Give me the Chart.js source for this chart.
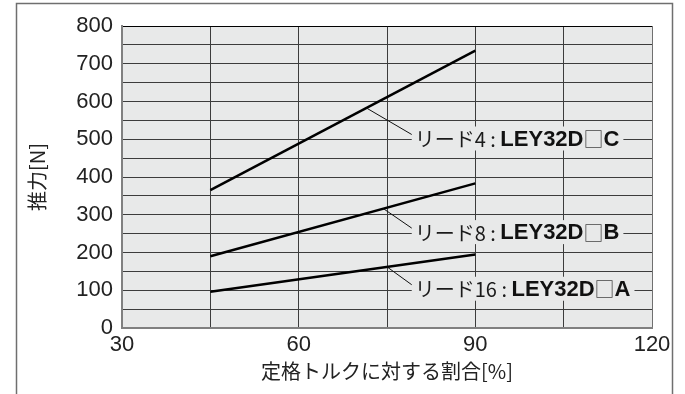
<!DOCTYPE html>
<html><head><meta charset="utf-8">
<script src="https://cdn.jsdelivr.net/npm/chart.js@4.4.1/dist/chart.umd.min.js"></script>
<style>html,body{margin:0;padding:0;background:#fff;}canvas{display:block}</style>
</head><body>
<canvas id="c" width="685" height="394"></canvas>
<script>
// ---- data ----
const ratioPct = [45, 90];                 // 定格トルクに対する割合[%]
const lead4Force = [365, 735];             // リード4
const lead8Force = [190, 383];             // リード8
const lead16Force = [96, 195];             // リード16
const leadNames = ['リード4', 'リード8', 'リード16'];
const modelCodes = ['LEY32D', 'LEY32D', 'LEY32D'];
const modelSuffix = ['C', 'B', 'A'];
const labelCentreForce = [502, 254, 104];  // where each callout sits (value units)
const leaderStartPct = [71.5, 74.4, 75.0];
const labelStartPct = 79.2;
const xTickLabels = [30, 60, 90, 120];
const yTickLabels = [0, 100, 200, 300, 400, 500, 600, 700, 800];

const seriesList = [lead4Force, lead8Force, lead16Force];
const PLOT_BG = '#e8e9e9';
const JP = '"Noto Sans CJK JP", "Noto Sans", sans-serif';
const LAT = '"Liberation Sans", Arial, sans-serif';

const bgPlugin = {
  id: 'bg',
  beforeDraw(chart) {
    const {ctx, chartArea: a} = chart;
    ctx.save();
    ctx.fillStyle = PLOT_BG;
    ctx.fillRect(a.left, a.top, a.right - a.left, a.bottom - a.top);
    ctx.restore();
  },
  afterDraw(chart) {
    const {ctx} = chart;
    ctx.save();
    ctx.strokeStyle = '#6f6f6f';
    ctx.lineWidth = 1.5;
    ctx.beginPath();
    ctx.moveTo(16.5, 394); ctx.lineTo(16.5, 3.5); ctx.lineTo(672.5, 3.5); ctx.lineTo(672.5, 394);
    ctx.stroke();
    ctx.restore();
  }
};

function valueOn(series, pct) {
  const t = (pct - ratioPct[0]) / (ratioPct[1] - ratioPct[0]);
  return series[0] + t * (series[1] - series[0]);
}

const calloutPlugin = {
  id: 'callouts',
  afterDatasetsDraw(chart) {
    const {ctx, scales: {x, y}} = chart;
    ctx.save();
    ctx.textBaseline = 'middle';
    seriesList.forEach((series, i) => {
      const runs = [
        {t: leadNames[i], font: '400 20px ' + JP, color: '#1a1a1a'},
        {t: ' : ', font: '400 20px ' + JP, color: '#1a1a1a'},
        {t: modelCodes[i], font: 'bold 22px ' + LAT, color: '#111'},
        {t: '□', font: '400 20px ' + JP, color: '#444'},
        {t: modelSuffix[i], font: 'bold 22px ' + LAT, color: '#111'}
      ];
      let w = 0;
      runs.forEach(r => { ctx.font = r.font; r.w = ctx.measureText(r.t).width; w += r.w; });
      const x0 = x.getPixelForValue(labelStartPct);
      const yc = y.getPixelForValue(labelCentreForce[i]);
      ctx.fillStyle = PLOT_BG;
      ctx.fillRect(x0, yc - 12, w + 7, 24);
      // leader
      const sx = x.getPixelForValue(leaderStartPct[i]);
      const sy = y.getPixelForValue(valueOn(series, leaderStartPct[i]));
      ctx.strokeStyle = '#111';
      ctx.lineWidth = 1;
      ctx.beginPath();
      ctx.moveTo(sx, sy);
      ctx.lineTo(x0, yc - 4);
      ctx.stroke();
      let cx = x0 + 3;
      runs.forEach(r => {
        ctx.font = r.font; ctx.fillStyle = r.color;
        ctx.fillText(r.t, cx, yc + 1);
        cx += r.w;
      });
    });
    ctx.restore();
  }
};

const datasets = seriesList.map((s, i) => ({
  label: leadNames[i],
  data: ratioPct.map((p, k) => ({x: p, y: s[k]})),
  borderColor: '#000',
  borderWidth: 2.5,
  pointRadius: 0,
  showLine: true,
  fill: false
}));

new Chart(document.getElementById('c'), {
  type: 'scatter',
  data: {datasets},
  plugins: [bgPlugin, calloutPlugin],
  options: {
    responsive: false,
    animation: false,
    layout: {padding: {left: 0, top: 26, right: 33, bottom: 11}},
    plugins: {legend: {display: false}, tooltip: {enabled: false}},
    scales: {
      x: {
        type: 'linear', min: 30, max: 120,
        afterFit(s) { s.height = 55; },
        ticks: {
          stepSize: 15, autoSkip: false, maxRotation: 0, padding: 4,
          color: '#222', font: {family: LAT, size: 22},
          callback: v => xTickLabels.includes(v) ? String(v) : ''
        },
        grid: {
          drawTicks: false, lineWidth: 1,
          color: c => c.tick && c.tick.value === 120 ? '#707070' : '#3c3c3c'
        },
        border: {color: '#808080', width: 2},
        title: {display: true, text: '定格トルクに対する割合[%]', color: '#222',
          font: {family: JP, size: 20}, padding: {top: 0, bottom: 0}}
      },
      y: {
        type: 'linear', min: 0, max: 800,
        afterFit(s) { s.width = 122; },
        ticks: {
          stepSize: 50, autoSkip: false, padding: 9,
          color: '#222', font: {family: LAT, size: 22},
          callback: v => yTickLabels.includes(v) ? String(v) : ''
        },
        grid: {
          drawTicks: false, lineWidth: 1,
          color: c => c.tick && c.tick.value === 800 ? '#000' : '#3c3c3c'
        },
        border: {color: '#808080', width: 2},
        title: {display: true, text: '推力[N]', color: '#222',
          font: {family: JP, size: 20}, padding: {top: 25, bottom: 0}}
      }
    }
  }
});
</script>
</body></html>
